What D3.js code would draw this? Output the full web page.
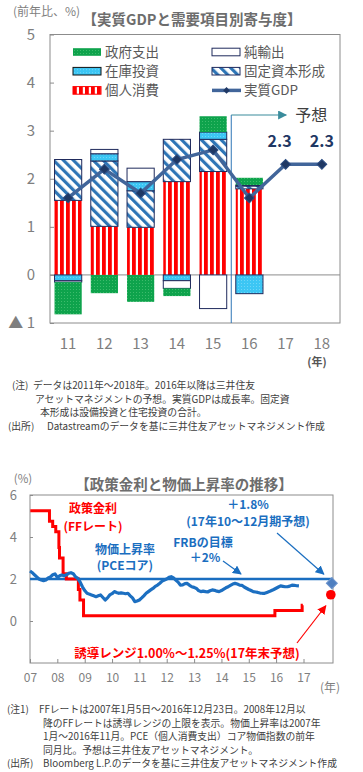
<!DOCTYPE html>
<html>
<head>
<meta charset="utf-8">
<script src="https://cdn.jsdelivr.net/npm/d3@7"></script>
<style>
body { margin: 0; background: #fff; }
text { font-family: "Noto Sans CJK JP", "Noto Sans", sans-serif; }
</style>
</head>
<body>
<svg id="chart" width="363" height="772"></svg>
<script>
'use strict'

// ---- 上: 実質GDPと需要項目別寄与度 ----
const years = ['11', '12', '13', '14', '15', '16', '17', '18'];
const kojinShohi = [1.55, 1.01, 0.99, 1.94, 2.15, 1.79, 0, 0];
const koteiShihon = [0.85, 1.36, 0.76, 0.88, 0.67, 0.06, 0, 0];
const zaikoToshi = [-0.12, 0.15, 0.19, -0.12, 0.15, -0.39, 0, 0];
const junYushutsu = [-0.03, 0.09, 0.28, -0.16, -0.70, 0.02, 0, 0];
const seifuShishutsu = [-0.67, -0.38, -0.56, -0.16, 0.33, 0.15, 0, 0];
const jisshitsuGdp = [1.6, 2.2, 1.7, 2.4, 2.6, 1.6, 2.3, 2.3];
const yosoYears = ['17', '18'];
const yTicks1 = [-1, 0, 1, 2, 3, 4, 5];

// ---- 下: 政策金利と物価上昇率の推移 ----
const ffDates = ['2007-01-05', '2007-09-18', '2007-10-31', '2007-12-11', '2008-01-22', '2008-01-30',
    '2008-03-18', '2008-04-30', '2008-10-08', '2008-10-29', '2008-12-16', '2015-12-16', '2016-12-14', '2016-12-23'];
const ffRate = [5.25, 4.75, 4.5, 4.25, 3.5, 3.0, 2.25, 2.0, 1.5, 1.0, 0.25, 0.5, 0.75, 0.75];
// PCEコア前年同月比 2007年1月～2016年11月
const pceStart = '2007-01-01';
const pceCore = [
    2.38, 2.30, 2.20, 2.10, 2.00, 1.95, 1.92, 1.95, 2.05, 2.10, 2.20, 2.24,
    2.08, 2.15, 2.19, 2.15, 2.20, 2.27, 2.30, 2.25, 2.10, 2.03, 1.85, 1.63,
    1.45, 1.32, 1.28, 1.24, 1.20, 1.16, 1.20, 1.24, 1.12, 1.00, 1.10, 1.24,
    1.30, 1.40, 1.36, 1.32, 1.34, 1.32, 1.30, 1.32, 1.20, 1.10, 0.92, 0.95,
    1.00, 1.10, 1.20, 1.32, 1.40, 1.48, 1.55, 1.65, 1.71, 1.80, 1.90, 1.95,
    2.00, 2.08, 2.11, 2.05, 1.95, 1.85, 1.71, 1.72, 1.78, 1.79, 1.70, 1.63,
    1.60, 1.55, 1.45, 1.40, 1.42, 1.40, 1.38, 1.44, 1.48, 1.46, 1.42, 1.40,
    1.45, 1.52, 1.58, 1.63, 1.70, 1.76, 1.79, 1.76, 1.71, 1.70, 1.62, 1.56,
    1.50, 1.45, 1.40, 1.38, 1.36, 1.33, 1.32, 1.32, 1.36, 1.40, 1.45, 1.50,
    1.56, 1.62, 1.67, 1.65, 1.63, 1.63, 1.66, 1.71, 1.70, 1.68, 1.67
];
const frbTarget = 2;
const pceYoso = 1.8;
const ffYoso = 1.25;
const yosoDate = '2018-01-01';
const xYears2 = ['2007', '2008', '2009', '2010', '2011', '2012', '2013', '2014', '2015', '2016', '2017'];
const yTicks2 = [0, 2, 4, 6];

const svg = d3.select('#chart');
svg.append('rect').attr('width', 363).attr('height', 772).attr('fill', '#fff');

const gray = '#7f7f7f';
const navy = '#1f2a5c';

// patterns
const defs = svg.append('defs');
const pRed = defs.append('pattern').attr('id', 'redStripe').attr('patternUnits', 'userSpaceOnUse')
    .attr('width', 6).attr('height', 10);
pRed.append('rect').attr('width', 6).attr('height', 10).attr('fill', '#fff');
pRed.append('rect').attr('width', 3.8).attr('height', 10).attr('fill', '#ff0000');

const pHatch = defs.append('pattern').attr('id', 'hatch').attr('patternUnits', 'userSpaceOnUse')
    .attr('width', 7).attr('height', 7).attr('patternTransform', 'rotate(-45)');
pHatch.append('rect').attr('width', 7).attr('height', 7).attr('fill', '#fff');
pHatch.append('rect').attr('width', 3.2).attr('height', 7).attr('fill', '#2e75b6');

const pGreen = defs.append('pattern').attr('id', 'greenDot').attr('patternUnits', 'userSpaceOnUse')
    .attr('width', 3).attr('height', 3);
pGreen.append('rect').attr('width', 3).attr('height', 3).attr('fill', '#0ea34c');
pGreen.append('rect').attr('x', 1).attr('y', 1).attr('width', 1).attr('height', 1).attr('fill', '#3dbb6c');

const pCyan = defs.append('pattern').attr('id', 'cyanDot').attr('patternUnits', 'userSpaceOnUse')
    .attr('width', 3).attr('height', 3);
pCyan.append('rect').attr('width', 3).attr('height', 3).attr('fill', '#3cc6f4');
pCyan.append('rect').attr('x', 1).attr('y', 1).attr('width', 1).attr('height', 1).attr('fill', '#6fd6f8');

function arrowMarker(id, col) {
    defs.append('marker').attr('id', id).attr('viewBox', '0 0 10 10')
        .attr('refX', 9).attr('refY', 5).attr('markerWidth', 9).attr('markerHeight', 9)
        .attr('markerUnits', 'userSpaceOnUse').attr('orient', 'auto')
        .append('path').attr('d', 'M0,0L10,5L0,10z').attr('fill', col);
}
arrowMarker('arTeal', '#3a8c9c');
arrowMarker('arBlue', '#1a6ec0');
arrowMarker('arRed', '#ff0000');

// 複数行テキスト (1つのtextにtspan)
function block(x, y, lines, opt) {
    const t = svg.append('text').attr('x', x).attr('y', y)
        .attr('text-anchor', opt.anchor || 'start')
        .attr('font-size', opt.size).attr('fill', opt.col)
        .attr('font-weight', opt.bold ? 'bold' : null);
    lines.forEach((l, i) => {
        t.append('tspan').attr('x', l.x !== undefined ? l.x : x).attr('dy', i === 0 ? 0 : l.dy)
            .attr('font-size', l.size || null).text(l.s);
    });
    return t;
}

// ===================== 上のチャート =====================
const x1 = d3.scaleBand().domain(years).range([50, 340]).paddingInner(0.25).paddingOuter(0.125);
const y1 = d3.scaleLinear().domain([-1, 5]).range([323, 34.5]);

svg.append('text').attr('x', 13).attr('y', 16).attr('font-size', 12).attr('fill', gray).text('(前年比、%)');
svg.append('text').attr('x', 192).attr('y', 25).attr('text-anchor', 'middle').attr('font-size', 14.5)
    .attr('font-weight', 'bold').attr('fill', '#6d6d6d').text('【実質GDPと需要項目別寄与度】');

svg.append('rect').attr('x', 50).attr('y', y1(5)).attr('width', 290).attr('height', y1(-1) - y1(5))
    .attr('fill', 'none').attr('stroke', '#8c8c8c');

const yAx1 = svg.append('g').attr('transform', 'translate(50,0)')
    .call(d3.axisLeft(y1).tickValues(yTicks1).tickSizeInner(-4).tickSizeOuter(0).tickPadding(15)
        .tickFormat(d => d < 0 ? '▲ ' + (-d) : d));
yAx1.select('.domain').remove();
yAx1.selectAll('line').attr('stroke', '#8c8c8c');
yAx1.selectAll('text').attr('fill', gray).attr('font-size', 15);

svg.append('line').attr('x1', 50).attr('x2', 340).attr('y1', y1(0)).attr('y2', y1(0)).attr('stroke', '#8c8c8c');

const xAx1 = svg.append('g').attr('transform', `translate(0,${y1(-1)})`)
    .call(d3.axisBottom(x1).tickSize(0).tickPadding(15));
xAx1.select('.domain').remove();
xAx1.selectAll('text').attr('fill', gray).attr('font-size', 15);
svg.append('text').attr('x', 317).attr('y', 366).attr('text-anchor', 'middle').attr('font-size', 11)
    .attr('font-weight', 'bold').attr('fill', '#555').text('(年)');

// 積み上げ
const tbl = years.map((y, i) => ({
    year: y,
    kojin: kojinShohi[i],
    kotei: koteiShihon[i],
    zaiko: zaikoToshi[i],
    junyu: junYushutsu[i],
    seifu: seifuShishutsu[i]
}));
const keys = ['kojin', 'kotei', 'zaiko', 'junyu', 'seifu'];
const fills = { kojin: 'url(#redStripe)', kotei: 'url(#hatch)', zaiko: 'url(#cyanDot)', junyu: '#fff', seifu: 'url(#greenDot)' };
const strokes = { kojin: 'none', kotei: navy, zaiko: navy, junyu: navy, seifu: 'none' };
const series = d3.stack().keys(keys).offset(d3.stackOffsetDiverging)(tbl);

svg.append('g').selectAll('g').data(series).join('g')
    .attr('fill', d => fills[d.key]).attr('stroke', d => strokes[d.key]).attr('stroke-width', 1)
    .selectAll('rect').data(d => d.filter(v => v[1] !== v[0])).join('rect')
    .attr('x', d => x1(d.data.year))
    .attr('width', x1.bandwidth())
    .attr('y', d => y1(Math.max(d[0], d[1])))
    .attr('height', d => Math.abs(y1(d[0]) - y1(d[1])));

// 予想
const yosoX = (x1('15') + x1('16') + x1.bandwidth()) / 2;
const yosoY = 115;
svg.append('line').attr('x1', yosoX).attr('x2', yosoX).attr('y1', yosoY).attr('y2', y1(-1))
    .attr('stroke', '#2e75b6').attr('stroke-width', 1);
svg.append('line').attr('x1', yosoX).attr('x2', yosoX + 55).attr('y1', yosoY).attr('y2', yosoY)
    .attr('stroke', '#3a8c9c').attr('stroke-width', 1.2).attr('marker-end', 'url(#arTeal)');
svg.append('text').attr('x', yosoX + 64).attr('y', yosoY + 6).attr('font-size', 16).attr('fill', '#404040').text('予想');

// 実質GDP
const cx1 = y => x1(y) + x1.bandwidth() / 2;
const gdpPts = years.map((y, i) => ({ year: y, v: jisshitsuGdp[i] }));
svg.append('path').datum(gdpPts)
    .attr('d', d3.line().x(d => cx1(d.year)).y(d => y1(d.v)))
    .attr('fill', 'none').attr('stroke', '#41659a').attr('stroke-width', 3.5);
svg.append('g').selectAll('path').data(gdpPts).join('path')
    .attr('d', d3.symbol(d3.symbolSquare, 48))
    .attr('transform', d => `translate(${cx1(d.year)},${y1(d.v)}) rotate(45)`)
    .attr('fill', '#1f3864').attr('stroke', '#2c4d82').attr('stroke-width', 1);
svg.append('g').selectAll('text').data(gdpPts.filter(d => yosoYears.includes(d.year))).join('text')
    .attr('x', (d, i) => cx1(d.year) + (i === 0 ? -6 : 0))
    .attr('y', d => y1(d.v) - 17)
    .attr('text-anchor', 'middle').attr('font-size', 16).attr('font-weight', 'bold').attr('fill', '#1f3864')
    .text(d => d.v.toFixed(1));

// 凡例
const legend = [
    { label: '政府支出', fill: 'url(#greenDot)', stroke: 'none', col: 0, row: 0 },
    { label: '在庫投資', fill: 'url(#cyanDot)', stroke: '#111', col: 0, row: 1 },
    { label: '個人消費', fill: 'url(#redStripe)', stroke: '#ff0000', col: 0, row: 2 },
    { label: '純輸出', fill: '#fff', stroke: navy, col: 1, row: 0 },
    { label: '固定資本形成', fill: 'url(#hatch)', stroke: navy, col: 1, row: 1 },
    { label: '実質GDP', line: true, col: 1, row: 2 }
];
const lg = svg.append('g').selectAll('g').data(legend).join('g')
    .attr('transform', d => `translate(${d.col ? 212 : 73},${52 + d.row * 19.2})`);
lg.filter(d => !d.line).append('rect').attr('x', 0).attr('y', -3.8).attr('width', 28).attr('height', 7.6)
    .attr('fill', d => d.fill).attr('stroke', d => d.stroke);
lg.filter(d => d.line).append('line').attr('x1', 0).attr('x2', 29).attr('stroke', '#41659a').attr('stroke-width', 3.5);
lg.filter(d => d.line).append('path').attr('d', d3.symbol(d3.symbolSquare, 22))
    .attr('transform', 'translate(14.5,0) rotate(45)').attr('fill', '#1f3864');
lg.append('text').attr('x', 32).attr('y', 5).attr('font-size', 13.5).attr('fill', '#595959').text(d => d.label);

// 注記
const noteCol = '#404040';
const noteOpt = { size: 9.8, col: noteCol };
block(12, 389, [
    { s: '(注)' }
], noteOpt);
block(33, 389, [
    { s: 'データは2011年～2018年。2016年以降は三井住友' },
    { s: 'アセットマネジメントの予想。実質GDPは成長率。固定資', x: 35, dy: 13.5 },
    { s: '本形成は設備投資と住宅投資の合計。', x: 40, dy: 13.5 }
], noteOpt);
block(8, 430, [
    { s: '(出所)' }
], noteOpt);
block(47, 430, [
    { s: 'Datastreamのデータを基に三井住友アセットマネジメント作成' }
], noteOpt);

// ===================== 下のチャート =====================
const parse = d3.timeParse('%Y-%m-%d');
const x2 = d3.scaleTime().domain([parse('2007-01-01'), parse('2018-01-30')]).range([30, 333]);
const y2 = d3.scaleLinear().domain([-2, 6]).range([663, 495]);

svg.append('text').attr('x', 184).attr('y', 490).attr('text-anchor', 'middle').attr('font-size', 14.5)
    .attr('font-weight', 'bold').attr('fill', '#6d6d6d').text('【政策金利と物価上昇率の推移】');
svg.append('text').attr('x', 23).attr('y', 483).attr('text-anchor', 'middle').attr('font-size', 11.5)
    .attr('fill', gray).text('(%)');

svg.append('rect').attr('x', 30).attr('y', y2(6)).attr('width', 303).attr('height', y2(-2) - y2(6))
    .attr('fill', 'none').attr('stroke', '#8c8c8c');

const yAx2 = svg.append('g').attr('transform', 'translate(30,0)')
    .call(d3.axisLeft(y2).tickValues(yTicks2).tickSizeInner(-3).tickSizeOuter(0).tickPadding(13));
yAx2.select('.domain').remove();
yAx2.selectAll('line').attr('stroke', '#8c8c8c');
yAx2.selectAll('text').attr('fill', gray).attr('font-size', 13);

const xAx2 = svg.append('g').attr('transform', `translate(0,${y2(-2)})`)
    .call(d3.axisBottom(x2).tickValues(xYears2.map(y => parse(y + '-01-01'))).tickSizeInner(-4)
        .tickSizeOuter(0).tickPadding(10).tickFormat(d3.timeFormat('%y')));
xAx2.select('.domain').remove();
xAx2.selectAll('line').attr('stroke', '#8c8c8c');
xAx2.selectAll('text').attr('fill', gray).attr('font-size', 12);
svg.append('text').attr('x', 330).attr('y', 692).attr('text-anchor', 'middle').attr('font-size', 12)
    .attr('fill', gray).text('(年)');

// FRBの目標
svg.append('line').attr('x1', 30).attr('x2', 333).attr('y1', y2(frbTarget)).attr('y2', y2(frbTarget))
    .attr('stroke', '#1a6ec0').attr('stroke-width', 2.5);

// FFレート
const ffPts = ffDates.map((d, i) => ({ date: parse(d), v: ffRate[i] }));
svg.append('path').datum(ffPts)
    .attr('d', d3.line().curve(d3.curveStepAfter).x(d => x2(d.date)).y(d => y2(d.v)))
    .attr('fill', 'none').attr('stroke', '#ff0000').attr('stroke-width', 3);

// PCEコア
const pcePts = pceCore.map((v, i) => ({ date: d3.timeMonth.offset(parse(pceStart), i), v: v }));
svg.append('path').datum(pcePts)
    .attr('d', d3.line().x(d => x2(d.date)).y(d => y2(d.v)))
    .attr('fill', 'none').attr('stroke', '#1c6fc1').attr('stroke-width', 3.2).attr('stroke-linejoin', 'round');

// 予想点
const yd = parse(yosoDate);
svg.append('path').attr('d', d3.symbol(d3.symbolSquare, 60))
    .attr('transform', `translate(${x2(yd) + 1},${y2(pceYoso)}) rotate(45)`)
    .attr('fill', '#4f7fc0').attr('stroke', '#6b93cc');
svg.append('circle').attr('cx', x2(yd)).attr('cy', y2(ffYoso)).attr('r', 4.8).attr('fill', '#ff0000');

// 注釈
const blue = '#1a6ec0';
const redA = { anchor: 'middle', size: 12, col: '#ff0000', bold: true };
const blueA = { anchor: 'middle', size: 12, col: blue, bold: true };
block(93, 512.5, [
    { s: '政策金利' },
    { s: '(FFレート)', dy: 18 }
], redA);
block(248, 508.5, [
    { s: '＋1.8%' },
    { s: '(17年10～12月期予想)', dy: 17.5 }
], blueA);
block(125, 554, [
    { s: '物価上昇率' },
    { s: '(PCEコア)', dy: 15.5 }
], blueA);
block(203, 546.5, [
    { s: 'FRBの目標' },
    { s: '＋2%', x: 205, dy: 15.5 }
], blueA);
block(187, 658, [
    { s: '誘導レンジ1.00%～1.25%(17年末予想)' }
], { anchor: 'middle', size: 12.5, col: '#ff0000', bold: true });

svg.append('line').attr('x1', 277).attr('y1', 533).attr('x2', x2(yd) - 7).attr('y2', y2(pceYoso) - 9)
    .attr('stroke', blue).attr('stroke-width', 1.2).attr('marker-end', 'url(#arBlue)');
svg.append('line').attr('x1', 223).attr('y1', 561).attr('x2', 241).attr('y2', y2(frbTarget) - 5)
    .attr('stroke', blue).attr('stroke-width', 1.2).attr('marker-end', 'url(#arBlue)');
svg.append('line').attr('x1', 297).attr('y1', 643).attr('x2', x2(yd) - 5).attr('y2', y2(ffYoso) + 11)
    .attr('stroke', '#ff0000').attr('stroke-width', 1.2).attr('marker-end', 'url(#arRed)');

// 注記
block(7, 713, [
    { s: '(注1)' }
], noteOpt);
block(39, 713, [
    { s: 'FFレートは2007年1月5日～2016年12月23日。2008年12月以' },
    { s: '降のFFレートは誘導レンジの上限を表示。物価上昇率は2007年', x: 43, dy: 13.5 },
    { s: '1月～2016年11月。PCE（個人消費支出）コア物価指数の前年', x: 43, dy: 13.5 },
    { s: '同月比。予想は三井住友アセットマネジメント。', x: 43, dy: 13.5 }
], noteOpt);
block(7, 767, [
    { s: '(出所)' }
], noteOpt);
block(43, 767, [
    { s: 'Bloomberg L.P.のデータを基に三井住友アセットマネジメント作成' }
], noteOpt);
</script>
</body>
</html>
